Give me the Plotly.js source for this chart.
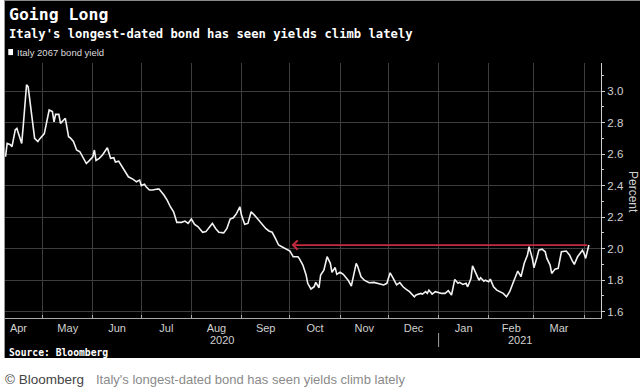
<!DOCTYPE html>
<html>
<head>
<meta charset="utf-8">
<script src="https://cdn.plot.ly/plotly-3.0.1.min.js"></script>
<style>
  html, body { margin: 0; padding: 0; background: #ffffff; width: 640px; height: 390px; overflow: hidden; }
  #panel { position: absolute; left: 4px; top: 0; width: 636px; height: 358px; background: #000; border-left: 1px solid #9a9a9a; border-top: 1px solid #8a8a8a; box-sizing: border-box; }
  #chart { position: absolute; left: 0; top: 0; width: 640px; height: 390px; }
</style>
</head>
<body>
<div id="panel"></div>
<div id="chart"></div>
<script>
const chartTitle = "Going Long";
const chartSubtitle = "Italy's longest-dated bond has seen yields climb lately";
const seriesName = "Italy 2067 bond yield";
const yAxisLabel = "Percent";
const sourceText = "Source: Bloomberg";
const captionBrand = "© Bloomberg";
const captionText = "Italy's longest-dated bond has seen yields climb lately";
const yearLabels = ["2020", "2021"];
const yearBoundary = "2021-01-01";

const dates = [
"2020-04-08","2020-04-09","2020-04-11","2020-04-12","2020-04-14","2020-04-15","2020-04-16","2020-04-18","2020-04-19","2020-04-21",
"2020-04-22","2020-04-24","2020-04-26","2020-04-28","2020-04-29","2020-05-02","2020-05-03","2020-05-05","2020-05-07","2020-05-08",
"2020-05-09","2020-05-11","2020-05-12","2020-05-14","2020-05-15","2020-05-17","2020-05-18","2020-05-20","2020-05-22","2020-05-24",
"2020-05-26","2020-05-28","2020-05-30","2020-06-01","2020-06-02","2020-06-03","2020-06-05","2020-06-07","2020-06-10","2020-06-12",
"2020-06-14","2020-06-15","2020-06-17","2020-06-19","2020-06-21","2020-06-23","2020-06-26","2020-06-28","2020-06-30","2020-07-01",
"2020-07-03","2020-07-04","2020-07-06","2020-07-08","2020-07-11","2020-07-12","2020-07-15","2020-07-17","2020-07-19","2020-07-21",
"2020-07-23","2020-07-26","2020-07-28","2020-07-30","2020-08-01","2020-08-03","2020-08-05","2020-08-08","2020-08-10","2020-08-14",
"2020-08-16","2020-08-18","2020-08-21","2020-08-23","2020-08-25","2020-08-27","2020-08-29","2020-08-31","2020-09-01","2020-09-03",
"2020-09-05","2020-09-07","2020-09-09","2020-09-11","2020-09-14","2020-09-16","2020-09-18","2020-09-20","2020-09-22","2020-09-24",
"2020-09-26","2020-09-28","2020-09-30","2020-10-01","2020-10-03","2020-10-06","2020-10-07","2020-10-09","2020-10-11","2020-10-12",
"2020-10-14","2020-10-16","2020-10-17","2020-10-19","2020-10-20","2020-10-22","2020-10-24","2020-10-26","2020-10-27","2020-10-29",
"2020-10-30","2020-11-01","2020-11-03","2020-11-06","2020-11-08","2020-11-10","2020-11-11","2020-11-12","2020-11-14","2020-11-16",
"2020-11-19","2020-11-22","2020-11-25","2020-11-28","2020-11-30","2020-12-02","2020-12-04","2020-12-06","2020-12-08","2020-12-10",
"2020-12-12","2020-12-14","2020-12-17","2020-12-18","2020-12-21","2020-12-22","2020-12-24","2020-12-25","2020-12-26","2020-12-28",
"2020-12-30","2021-01-01","2021-01-03","2021-01-05","2021-01-07","2021-01-09","2021-01-11","2021-01-13","2021-01-14","2021-01-16",
"2021-01-18","2021-01-19","2021-01-21","2021-01-22","2021-01-24","2021-01-26","2021-01-27","2021-01-29","2021-01-30","2021-02-01",
"2021-02-02","2021-02-04","2021-02-06","2021-02-08","2021-02-10","2021-02-12","2021-02-14","2021-02-16","2021-02-18","2021-02-19",
"2021-02-21","2021-02-23","2021-02-25","2021-02-26","2021-02-28","2021-03-01","2021-03-03","2021-03-04","2021-03-06","2021-03-08",
"2021-03-09","2021-03-11","2021-03-12","2021-03-14","2021-03-16","2021-03-18","2021-03-21","2021-03-23","2021-03-25","2021-03-26",
"2021-03-28","2021-03-31","2021-04-01","2021-04-02","2021-04-04"
];

const yields = [
2.583,2.668,2.660,2.647,2.753,2.763,2.730,2.668,2.784,3.040,
3.027,2.850,2.700,2.680,2.695,2.730,2.774,2.880,2.870,2.805,
2.852,2.852,2.795,2.816,2.827,2.710,2.704,2.680,2.626,2.615,
2.573,2.540,2.560,2.583,2.626,2.560,2.573,2.594,2.640,2.573,
2.577,2.550,2.555,2.520,2.484,2.456,2.440,2.424,2.435,2.400,
2.408,2.393,2.372,2.372,2.378,2.378,2.340,2.308,2.266,2.234,
2.167,2.167,2.175,2.160,2.188,2.154,2.140,2.104,2.108,2.160,
2.128,2.104,2.100,2.128,2.188,2.196,2.224,2.266,2.213,2.154,
2.160,2.234,2.213,2.188,2.154,2.128,2.112,2.104,2.065,2.023,
2.012,2.002,1.990,1.985,1.949,1.949,1.934,1.896,1.833,1.780,
1.744,1.759,1.786,1.752,1.833,1.864,1.949,1.907,1.850,1.880,
1.837,1.850,1.837,1.800,1.763,1.864,1.907,1.885,1.822,1.800,
1.784,1.786,1.780,1.770,1.780,1.847,1.810,1.770,1.784,1.758,
1.742,1.727,1.695,1.706,1.716,1.712,1.727,1.716,1.737,1.712,
1.727,1.720,1.716,1.716,1.733,1.706,1.805,1.780,1.786,1.773,
1.780,1.758,1.810,1.891,1.843,1.800,1.815,1.794,1.800,1.790,
1.807,1.758,1.737,1.727,1.716,1.695,1.727,1.780,1.833,1.858,
1.822,1.907,1.960,2.012,1.938,1.879,1.949,1.990,1.997,1.980,
1.938,1.896,1.843,1.870,1.875,1.980,1.985,1.960,1.917,1.900,
1.949,1.990,1.970,1.938,2.023
];

// Arrow: from the latest reading back to the date the yield was last at that level
const arrowFrom = dates[dates.length - 1];
const arrowTo = "2020-10-02";
const arrowLevel = yields[yields.length - 1];

const xRange = ["2020-04-07 16:00", "2021-04-11 12:00"];
const yRange = [1.56, 3.178];

const tickFont = { family: "Liberation Sans, Arial, sans-serif", size: 11, color: "#d0d0d0" };
const monoBold = "DejaVu Sans Mono, monospace";

const trace = {
  x: dates, y: yields, type: "scatter", mode: "lines",
  name: seriesName,
  line: { color: "#f2f2f2", width: 1.6 },
  hoverinfo: "skip", showlegend: false
};

const layout = {
  width: 640, height: 390,
  margin: { l: 5, r: 39, t: 63, b: 72 },
  paper_bgcolor: "rgba(0,0,0,0)",
  plot_bgcolor: "rgba(0,0,0,0)",
  showlegend: false,
  xaxis: {
    type: "date", range: xRange,
    dtick: "M1", tick0: "2020-04-01", tickformat: "%b", ticklabelmode: "period",
    showgrid: true, gridcolor: "#3d3d3d", gridwidth: 1,
    showline: true, linecolor: "#a8a8a8", linewidth: 1,
    ticks: "inside", ticklen: 3, tickcolor: "#a8a8a8",
    zeroline: false, tickfont: tickFont, fixedrange: true
  },
  yaxis: {
    side: "right", range: yRange,
    tick0: 1.6, dtick: 0.2, tickformat: ".1f",
    showgrid: true, gridcolor: "#3d3d3d", gridwidth: 1,
    showline: true, linecolor: "#cfcfcf", linewidth: 1,
    ticks: "outside", ticklen: 3, tickcolor: "#cfcfcf",
    minor: { dtick: 0.1, tick0: 1.6, ticks: "outside", ticklen: 2, tickcolor: "#cfcfcf", showgrid: false },
    zeroline: false, tickfont: { family: "Liberation Sans, Arial, sans-serif", size: 11.5, color: "#d0d0d0" },
    fixedrange: true
  },
  shapes: [
    { type: "rect", xref: "paper", yref: "paper", x0: 0.0055, x1: 0.0135, y0: 1.031, y1: 1.055,
      fillcolor: "#ffffff", line: { width: 0 } },
    { type: "line", xref: "x", yref: "paper", x0: yearBoundary, x1: yearBoundary, y0: -0.059, y1: -0.114,
      line: { color: "#a0a0a0", width: 1 } }
  ],
  annotations: [
    { xref: "paper", yref: "paper", x: 0.0034, y: 1.192, xanchor: "left", yanchor: "middle",
      text: "<b>" + chartTitle + "</b>", showarrow: false,
      font: { family: monoBold, size: 16.5, color: "#ffffff" } },
    { xref: "paper", yref: "paper", x: 0.0034, y: 1.112, xanchor: "left", yanchor: "middle",
      text: "<b>" + chartSubtitle + "</b>", showarrow: false,
      font: { family: monoBold, size: 12.2, color: "#ffffff" } },
    { xref: "paper", yref: "paper", x: 0.0175, y: 1.043, xanchor: "left", yanchor: "middle",
      text: seriesName, showarrow: false,
      font: { family: "Liberation Sans, Arial, sans-serif", size: 9.5, color: "#dcdcdc" } },
    { xref: "paper", yref: "paper", x: 1.0537, y: 0.494, xanchor: "center", yanchor: "middle",
      text: yAxisLabel, textangle: 90, showarrow: false,
      font: { family: "Liberation Sans, Arial, sans-serif", size: 12, color: "#d0d0d0" } },
    { xref: "paper", yref: "paper", x: 0.364, y: -0.086, xanchor: "center", yanchor: "middle",
      text: yearLabels[0], showarrow: false, font: tickFont },
    { xref: "paper", yref: "paper", x: 0.864, y: -0.086, xanchor: "center", yanchor: "middle",
      text: yearLabels[1], showarrow: false, font: tickFont },
    { xref: "paper", yref: "paper", x: 0.0034, y: -0.137, xanchor: "left", yanchor: "middle",
      text: "<b>" + sourceText + "</b>", showarrow: false,
      font: { family: monoBold, size: 9.7, color: "#ffffff" } },
    { xref: "paper", yref: "paper", x: -0.0034, y: -0.243, xanchor: "left", yanchor: "middle",
      text: captionBrand, showarrow: false,
      font: { family: "Liberation Sans, Arial, sans-serif", size: 13.5, color: "#444444" } },
    { xref: "paper", yref: "paper", x: 0.149, y: -0.243, xanchor: "left", yanchor: "middle",
      text: captionText, showarrow: false,
      font: { family: "Liberation Sans, Arial, sans-serif", size: 13, color: "#8a8a8a" } },
    { xref: "x", yref: "y", x: arrowTo, y: arrowLevel, axref: "x", ayref: "y", ax: arrowFrom, ay: arrowLevel,
      text: "", showarrow: true, arrowhead: 4, arrowsize: 1, arrowwidth: 1.8, arrowcolor: "#c42a40", standoff: 0 }
  ]
};

Plotly.newPlot("chart", [trace], layout, { staticPlot: true, displayModeBar: false });
</script>
</body>
</html>
